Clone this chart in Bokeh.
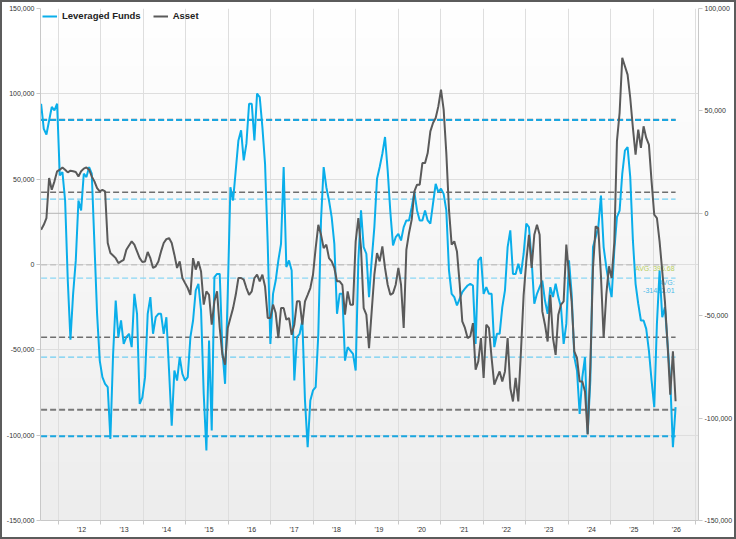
import numpy as np
import pandas as pd
from bokeh.plotting import figure
from bokeh.models import Range1d, LinearAxis, FixedTicker, NumeralTickFormatter, Grid, Span
from bokeh.core.properties import value
from bokeh.embed import file_html
from bokeh.resources import INLINE

# ---------------- data (values in thousands) ----------------
start_date, end_date = "2011-01-19", "2025-12-25"

lev_k = [
    94.2, 79.5, 76.2, 84.4, 92.3, 90.3, 94.2, 52.2, 54.1, 37.5,
    -9.4, -44.0, -17.2, 2.4, 37.5, 31.7, 53.2, 51.2, 57.1, 53.2,
    12.1, -28.9, -56.3, -66.0, -69.9, -71.9, -102.2, -53.3, -21.1, -42.6,
    -32.8, -46.5, -42.6, -40.6, -48.4, -17.2, -28.9, -81.7, -77.8, -66.0,
    -28.9,
    -19.1, -40.6, -30.9, -28.9, -28.9, -40.6, -30.9, -62.1, -94.4, -62.1,
    -68.0, -54.3, -64.1, -68.0, -66.0, -42.6, -32.8, -15.2, -11.3, -26.9,
    -75.8, -109.0, -44.5, -97.3, -7.4, -5.5, -5.5, -50.4, -69.9, -17.2,
    45.3, 37.5, 55.1, 72.7, 78.6, 61.0, 70.8, 94.2, 94.2, 72.7,
    100.1,
    98.1, 80.5, 59.0, 12.1, -46.5, -17.2, -9.4, 2.4, 12.1, 57.1,
    -1.5, 2.4, -3.5, -68.0, -42.6, -40.6, -32.8, -79.7, -107.1, -79.7,
    -73.8, -71.9, -40.6, 25.8, 57.1, 45.3, 37.5, 27.8, 12.1, -28.9,
    -17.2, -17.2, -56.3, -48.4, -50.4, -52.4, -62.1, 2.4, 31.7, 10.2,
    6.3,
    -19.1, 2.4, 21.9, 50.2, 57.1, 64.9, 74.7, 55.1, 30.7, 11.2,
    16.0, 18.0, 14.1, 21.9, 25.8, 25.8, 33.6, 42.4, 31.7, 25.8,
    25.8, 31.7, 25.8, 23.9, 35.6, 47.3, 42.4, 44.4, 41.4, 31.7,
    -3.5, -17.2, -19.1, -24.0, -20.1, -16.2, -14.2, -12.3, -11.3, -12.3,
    -46.5,
    2.4, 4.3, -17.2, -13.3, -17.2, -17.2, -48.4, -40.6, -40.6, -25.0,
    -15.2, 10.2, 20.0, -5.5, -5.5, 0.4, -5.5, 6.3, 23.9, 21.9,
    2.4, -23.0, -17.2, -13.3, -9.4, -21.1, -28.9, -13.3, -19.1, -11.3,
    -19.1, -25.0, -46.5, -34.8, 2.4, -17.2, -54.3, -62.1, -87.6, -66.0,
    -54.3, -99.3,
    -68.0, 10.2, 16.0, 21.9, 40.4, 10.2, -1.6, -11.3, -19.1, 8.2,
    27.7, 31.6, 53.1, 66.8, 68.8, 51.2, 14.1, -11.3, -23.0, -32.8,
    -32.8, -37.7, -50.4, -68.0, -83.6, -34.8, -3.5, -30.9, -25.0, -46.5,
    -68.0, -107.1, -83.6,
]

asset_k = [
    -8.0, -5.6, -2.3, 17.2, 11.5, 15.6, 20.5, 21.3, 22.4, 21.3,
    20.0, 20.8, 20.5, 20.2, 18.0, 20.5, 21.8, 22.4, 21.3, 18.0,
    15.6, 12.3, 10.7, 11.4, 10.7, -14.5, -19.4, -20.6, -21.9, -24.3,
    -23.5, -22.7, -17.8, -15.7, -13.7, -15.3, -18.6, -21.9, -23.8, -23.5,
    -18.9,
    -21.9, -26.7, -25.9, -23.5, -18.6, -14.5, -12.6, -12.1, -14.5, -20.2,
    -26.7, -23.5, -31.6, -34.1, -36.5, -39.8, -21.9, -27.5, -23.5, -28.4,
    -44.6, -38.1, -39.8, -54.4, -43.0, -38.1, -56.0, -69.1, -73.9, -56.0,
    -51.1, -46.3, -39.8, -31.6, -31.6, -32.4, -36.5, -39.8, -38.1, -31.6,
    -30.0,
    -33.2, -30.0, -35.7, -51.1, -51.1, -44.6, -48.7, -60.9, -46.3, -46.3,
    -52.0, -51.1, -59.3, -54.4, -43.0, -43.0, -54.4, -43.0, -39.8, -36.5,
    -30.0, -17.0, -5.6, -10.4, -17.0, -15.3, -21.9, -23.5, -26.7, -33.2,
    -33.2, -34.9, -49.5, -38.1, -44.6, -44.6, -13.7, -2.3, -17.0, -46.3,
    -49.5,
    -65.8, -47.9, -30.0, -19.4, -23.5, -16.2, -26.7, -34.9, -39.8, -39.0,
    -34.9, -26.7, -34.9, -56.0, -17.8, -9.6, -3.1, 10.7, 14.0, 14.0,
    24.5, 24.5, 29.4, 40.0, 44.1, 46.5, 52.2, 60.4, 50.6, 29.4,
    1.8, -15.3, -13.7, -18.6, -34.1, -52.8, -56.0, -60.9, -60.1, -53.6,
    -76.4,
    -72.3, -60.9, -80.4, -54.4, -56.0, -70.7, -83.7, -80.4, -77.2, -82.1,
    -77.2, -60.9, -85.3, -91.9, -80.4, -91.9, -67.4, -39.8, -23.5, -10.5,
    -26.7, -10.5, -5.6, -10.5, -47.9, -54.4, -62.6, -39.8, -60.9, -69.1,
    -49.5, -44.6, -43.0, -15.3, -30.0, -43.0, -67.4, -70.7, -82.1, -82.1,
    -87.0, -108.0,
    -74.7, -26.7, -6.4, -7.2, -30.8, -60.9, -39.7, -25.9, -31.6, -14.5,
    35.2, 49.0, 75.9, 71.8, 67.7, 56.3, 41.7, 28.6, 40.9, 31.9,
    42.5, 36.8, 33.5, 15.6, -0.7, -2.3, -13.7, -28.3, -43.0, -64.1,
    -88.6, -67.4, -91.8,
]

# average / standard deviation reference levels
lev_avg, lev_std = -8000, 46300
asset_avg, asset_std = -25100, 35400
asset_avg_label = "AVG: 396.68"
lev_avg_label = "AVG:\n-31432.01"

years = list(range(2012, 2027))
year_labels = ["'" + str(y)[2:] for y in years]
left_ticks = [-150000, -100000, -50000, 0, 50000, 100000, 150000]
right_ticks = [-150000, -100000, -50000, 0, 50000, 100000]

# ---------------- styling ----------------
FONT = "Liberation Sans"
BLUE = "#0aaeea"
GREY = "#5a5a5a"
AXIS_C = "#c8c8c8"
GRID_C = "#dedede"
LABEL_C = "#333333"
GRID_OFFSET = 0.545   # vertical grid lines sit ahead of the year labels
W, H = 736, 539

def decimal_years(n):
    d = pd.date_range(start_date, end_date, periods=n)
    days = np.where(d.is_leap_year, 366.0, 365.0)
    return np.asarray(d.year, dtype=float) + (np.asarray(d.dayofyear, dtype=float) - 1 + np.asarray(d.hour) / 24.0) / days

lev = np.array(lev_k) * 1000
asset = np.array(asset_k) * 1000
t_lev = decimal_years(len(lev))
t_asset = decimal_years(len(asset))
t0 = min(t_lev[0], t_asset[0])
t1 = max(t_lev[-1], t_asset[-1])

x_lo, x_hi = 2011.035, 2026.52
p = figure(width=W, height=H, output_backend="svg", toolbar_location=None,
           x_range=Range1d(x_lo, x_hi), y_range=Range1d(-150000, 150000),
           min_border_left=40, min_border_right=38, min_border_top=8, min_border_bottom=19,
           background_fill_color="white", border_fill_color="white", border_fill_alpha=0,
           outline_line_color=None)
p.extra_y_ranges = {"right": Range1d(-150000, 100000)}
# outer chart border, drawn by the page element behind the transparent canvas border
p.styles = {"box-shadow": "inset 0 0 0 2px #5c5c5c", "background-color": "white"}

# background gradient (white at top to light grey at bottom)
n_rows = 256
frac = np.linspace(0.0, 1.0, n_rows)  # 0 = bottom
shade = (237 + (255 - 237) * frac).astype(np.uint8)
img = np.empty((n_rows, 1), dtype=np.uint32)
view = img.view(dtype=np.uint8).reshape((n_rows, 1, 4))
view[:, 0, 0] = shade
view[:, 0, 1] = shade
view[:, 0, 2] = shade
view[:, 0, 3] = 255
p.image_rgba(image=[img], x=x_lo, y=-150000, dw=x_hi - x_lo, dh=300000, level="image")

# axes
for ax in p.yaxis:
    ax.ticker = FixedTicker(ticks=left_ticks)
    ax.formatter = NumeralTickFormatter(format="0,0")
right_axis = LinearAxis(y_range_name="right", ticker=FixedTicker(ticks=right_ticks),
                        formatter=NumeralTickFormatter(format="0,0"))
p.add_layout(right_axis, "right")

for ax in list(p.yaxis) + [right_axis]:
    ax.axis_line_color = AXIS_C
    ax.major_tick_line_color = AXIS_C
    ax.major_tick_out = 4
    ax.major_tick_in = 0
    ax.minor_tick_line_color = None
    ax.major_label_standoff = 2
    ax.major_label_text_font = FONT
    ax.major_label_text_font_size = "7px"
    ax.major_label_text_color = LABEL_C

grid_ticks = [y - GRID_OFFSET for y in years] + [years[-1] + 1 - GRID_OFFSET]
for ax in p.xaxis:
    ax.ticker = FixedTicker(ticks=years, minor_ticks=grid_ticks)
    ax.major_label_overrides = {y: lab for y, lab in zip(years, year_labels)}
    ax.axis_line_color = AXIS_C
    ax.major_tick_line_color = None
    ax.major_tick_out = 0
    ax.minor_tick_line_color = AXIS_C
    ax.minor_tick_out = 4
    ax.minor_tick_in = 0
    ax.major_label_standoff = 1
    ax.major_label_text_font = FONT
    ax.major_label_text_font_size = "7px"
    ax.major_label_text_color = LABEL_C

p.xgrid.ticker = FixedTicker(ticks=grid_ticks)
p.xgrid.grid_line_color = GRID_C
p.ygrid.grid_line_color = None
p.add_layout(Grid(dimension=1, axis=right_axis, grid_line_color=GRID_C))
p.add_layout(Span(location=0, dimension="width", y_range_name="right",
                  line_color="#b4b4b4", line_width=1, level="underlay"))

# reference lines (average, +-1 and +-2 standard deviations)
xs = [t0, t1]
def hline(v, color, width, rng="default"):
    p.line(xs, [v, v], line_color=color, line_width=width, line_dash="6 3", y_range_name=rng)

hline(asset_avg, "#c4c4c4", 1.5, "right")
for k in (-1, 1):
    hline(asset_avg + k * asset_std, "#6e6e6e", 1.5, "right")
for k in (-2, 2):
    hline(asset_avg + k * asset_std, "#7a7a7a", 2, "right")
hline(lev_avg, "#8ad6f4", 1.2)
for k in (-1, 1):
    hline(lev_avg + k * lev_std, "#6fcdf2", 1.2)
for k in (-2, 2):
    hline(lev_avg + k * lev_std, "#1aa6e0", 2)

# average labels
p.text(x=[t1], y=[asset_avg], text=[asset_avg_label], y_range_name="right",
       text_align="right", text_baseline="middle", x_offset=-1, y_offset=4,
       text_font=value(FONT), text_font_size="7px", text_color="#b8cf5c")
p.text(x=[t1], y=[lev_avg], text=[lev_avg_label],
       text_align="right", text_baseline="top", x_offset=-1, y_offset=1,
       text_font=value(FONT), text_font_size="7px", text_color="#47b9e8",
       text_line_height=1.15)

# series
p.line(t_lev, lev, line_color=BLUE, line_width=2, legend_label="Leveraged Funds")
p.line(t_asset, asset, line_color=GREY, line_width=2, y_range_name="right", legend_label="Asset")

lg = p.legend[0]
lg.location = "top_left"
lg.orientation = "horizontal"
lg.background_fill_alpha = 0
lg.border_line_alpha = 0
lg.label_text_font = FONT
lg.label_text_font_style = "bold"
lg.label_text_font_size = "9.5px"
lg.label_text_color = "#222222"
lg.glyph_width = 15
lg.glyph_height = 10
lg.label_standoff = 5
lg.spacing = 12
lg.padding = 0
lg.margin = 2
lg.label_height = 10

open("out.html", "w").write(file_html(p, INLINE))
